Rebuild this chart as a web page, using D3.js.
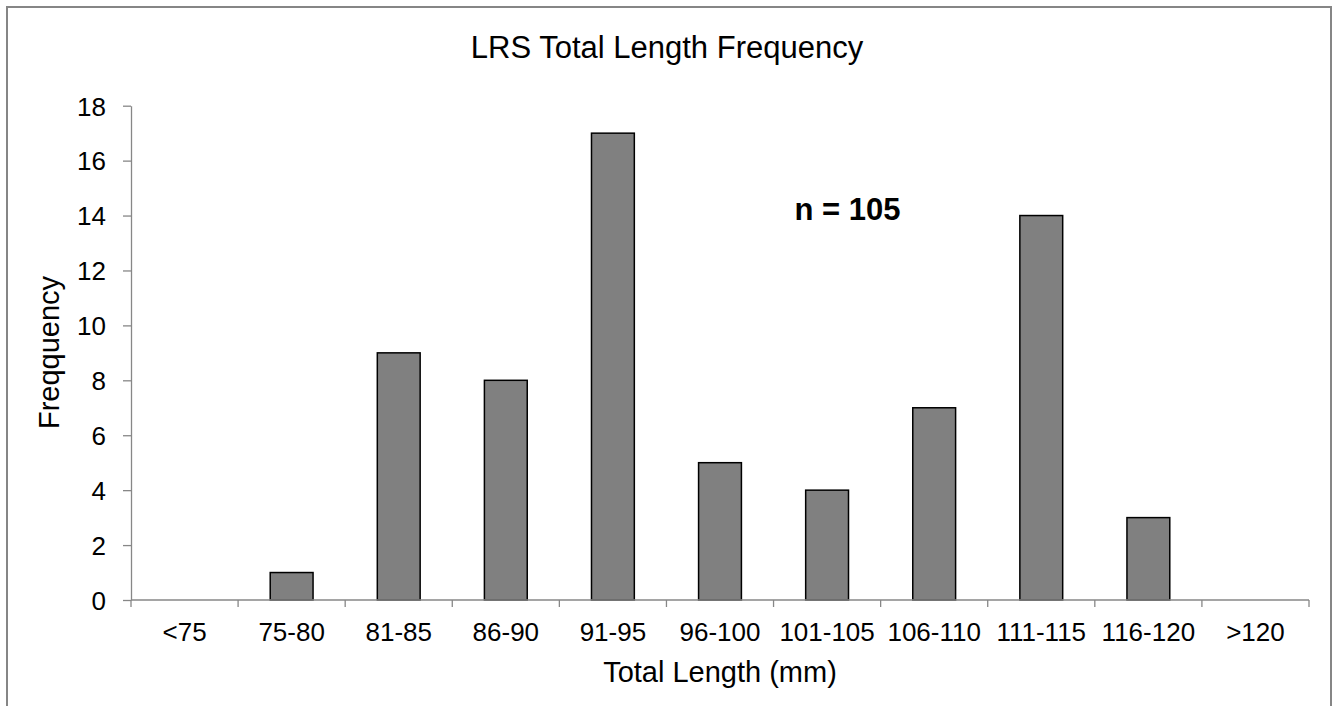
<!DOCTYPE html>
<html>
<head>
<meta charset="utf-8">
<script src="https://cdn.jsdelivr.net/npm/d3@7"></script>
<style>
  html, body { margin: 0; padding: 0; background: #fff; }
  svg { display: block; font-family: Arial, "Liberation Sans", sans-serif; }
</style>
</head>
<body>
<svg id="chart" width="1333" height="706"></svg>
<script>
const categories = ["<75", "75-80", "81-85", "86-90", "91-95", "96-100", "101-105", "106-110", "111-115", "116-120", ">120"];
const frequencies = [0, 1, 9, 8, 17, 5, 4, 7, 14, 3, 0];
const yTicks = [0, 2, 4, 6, 8, 10, 12, 14, 16, 18];
const titleText = "LRS Total Length Frequency";
const xTitleText = "Total Length (mm)";
const yTitleText = "Freqquency";
const noteText = "n = 105";

const W = 1333, H = 706;
const margin = { left: 131, right: 1333 - 1309, top: 105.7, bottom: 706 - 600 };
const svg = d3.select("#chart");

// outer chart border
svg.append("rect")
  .attr("x", 7).attr("y", 7)
  .attr("width", 1331 - 7).attr("height", 720)
  .attr("fill", "none").attr("stroke", "#868686").attr("stroke-width", 2);

const x = d3.scaleBand().domain(categories)
  .range([margin.left, W - margin.right])
  .paddingInner(0.6).paddingOuter(0.3);
const y = d3.scaleLinear().domain([0, 18]).range([H - margin.bottom, margin.top]);

// bars
svg.append("g").selectAll("rect")
  .data(categories.map((c, i) => ({ c, v: frequencies[i] })).filter(d => d.v > 0))
  .join("rect")
  .attr("x", d => x(d.c))
  .attr("y", d => y(d.v))
  .attr("width", x.bandwidth())
  .attr("height", d => y(0) - y(d.v))
  .attr("fill", "#808080")
  .attr("stroke", "#000")
  .attr("stroke-width", 1.5);

// y axis
const yAxis = svg.append("g")
  .attr("transform", `translate(${margin.left},0)`)
  .call(d3.axisLeft(y).tickValues(yTicks).tickSize(8).tickSizeOuter(0).tickPadding(17));
yAxis.select(".domain").attr("stroke", "#878787").attr("stroke-width", 1.3);
yAxis.selectAll(".tick line").attr("stroke", "#878787").attr("stroke-width", 1.3);
yAxis.selectAll(".tick text")
  .attr("font-size", 26).attr("fill", "#000")
  .attr("font-family", "Arial, 'Liberation Sans', sans-serif")
  .attr("dy", "0.36em");

// x axis: line + boundary ticks
const xg = svg.append("g").attr("transform", `translate(0,${y(0)})`);
const step = x.step();
const x0 = margin.left, x1 = W - margin.right;
const bounds = d3.range(categories.length + 1).map(i => x0 + (x1 - x0) * i / categories.length);
xg.append("line").attr("x1", x0).attr("x2", x1).attr("y1", 0).attr("y2", 0)
  .attr("stroke", "#878787").attr("stroke-width", 1.3);
xg.selectAll("line.tk").data(bounds).join("line").attr("class", "tk")
  .attr("x1", d => d).attr("x2", d => d).attr("y1", 0).attr("y2", 7)
  .attr("stroke", "#878787").attr("stroke-width", 1.3);
xg.selectAll("text").data(categories).join("text")
  .attr("x", d => x(d) + x.bandwidth() / 2)
  .attr("y", 40.7)
  .attr("text-anchor", "middle")
  .attr("font-size", 26)
  .attr("fill", "#000")
  .text(d => d);

// title
svg.append("text").attr("x", 667).attr("y", 58.3)
  .attr("text-anchor", "middle").attr("font-size", 31).attr("fill", "#000")
  .text(titleText);

// x axis title
svg.append("text").attr("x", (x0 + x1) / 2).attr("y", 681.5)
  .attr("text-anchor", "middle").attr("font-size", 29).attr("fill", "#000")
  .text(xTitleText);

// y axis title
svg.append("text")
  .attr("transform", `translate(58.5,352.5) rotate(-90)`)
  .attr("text-anchor", "middle").attr("font-size", 29).attr("fill", "#000")
  .text(yTitleText);

// annotation
svg.append("text").attr("x", 847.5).attr("y", 220)
  .attr("text-anchor", "middle").attr("font-size", 31).attr("font-weight", "bold").attr("fill", "#000")
  .text(noteText);
</script>
</body>
</html>
